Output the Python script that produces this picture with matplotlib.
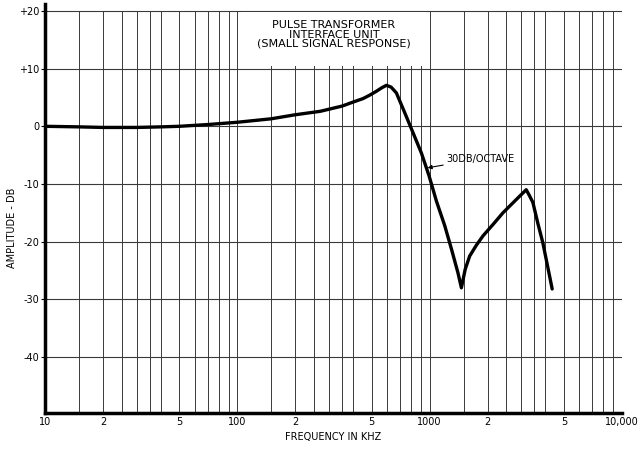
import matplotlib
matplotlib.use("Agg")
import matplotlib.pyplot as plt
from matplotlib.patches import Rectangle
import numpy as np

plt.rcParams['font.family'] = ['DejaVu Sans']

# ---- data ----
freq = [10, 15, 20, 30, 40, 50, 70, 100, 150, 200, 270, 350, 400, 450, 488, 530, 565, 596,
        630, 671, 741, 819, 905, 993, 1085, 1197, 1296, 1403, 1462,
        1530, 1614, 1750, 1893, 2150, 2404, 2800, 3176,
        3300, 3441, 3650, 3877, 4100, 4335]
amp = [0.0, -0.1, -0.2, -0.2, -0.1, 0.0, 0.3, 0.7, 1.3, 2.0, 2.6, 3.5, 4.2, 4.8, 5.4, 6.1, 6.7, 7.1,
       6.8, 5.8, 2.4, -1.1, -4.6, -8.6, -13.0, -17.2, -21.2, -25.4, -28.0,
       -24.8, -22.5, -20.6, -19.0, -16.9, -15.0, -12.8, -11.0,
       -12.0, -13.2, -16.8, -20.2, -24.2, -28.2]

yticks = [20, 10, 0, -10, -20, -30, -40]
ytick_labels = ["+20", "+10", "0", "-10", "-20", "-30", "-40"]
xticks = [10, 20, 50, 100, 200, 500, 1000, 2000, 5000, 10000]
xtick_labels = ["10", "2", "5", "100", "2", "5", "1000", "2", "5", "10,000"]
grid_mult = [1, 1.5, 2, 2.5, 3, 3.5, 4, 5, 6, 7, 8, 9]
decades = [10, 100, 1000]

title_lines = "PULSE TRANSFORMER\nINTERFACE UNIT\n(SMALL SIGNAL RESPONSE)"
annot_text = "30DB/OCTAVE"

# ---- figure ----
fig = plt.figure(figsize=(6.42, 4.50), dpi=100)
ax = fig.add_axes([45/642, 37/450, 577/642, 409/450])
ax.set_xscale('log')
ax.set_xlim(10, 10000)
ax.set_ylim(-49.7, 21.2)

# vertical grid lines
vx = [d * m for d in decades for m in grid_mult] + [10000]
ax.vlines(vx, -49.7, 20, colors='#3a3a3a', linewidth=0.7, zorder=1)
# horizontal grid lines
ax.hlines(yticks, 10, 10000, colors='#3a3a3a', linewidth=0.8, zorder=1)

# white box behind title
box = Rectangle((104, 10.5), 960 - 104, 9.3, facecolor='white', edgecolor='none', zorder=2)
ax.add_patch(box)

ax.plot(freq, amp, color='black', linewidth=2.4, solid_joinstyle='round',
        solid_capstyle='round', zorder=4)

ax.text(318, 18.4, title_lines, ha='center', va='top', fontsize=8,
        linespacing=0.92, zorder=5)

ax.annotate(annot_text, xy=(975, -7.2), xytext=(1215, -5.6), fontsize=7,
            ha='left', va='center', zorder=5,
            arrowprops=dict(arrowstyle='-|>', color='black', lw=0.8,
                            mutation_scale=6, shrinkA=0, shrinkB=0))

ax.set_yticks(yticks)
ax.set_yticklabels(ytick_labels, fontsize=7)
ax.set_xticks(xticks)
ax.set_xticklabels(xtick_labels, fontsize=7)
ax.xaxis.set_minor_locator(matplotlib.ticker.NullLocator())
ax.tick_params(axis='y', length=3, width=0.8, pad=1)
ax.tick_params(axis='x', length=0, pad=3)

for s in ['top', 'right']:
    ax.spines[s].set_visible(False)
ax.spines['left'].set_linewidth(2.5)
ax.spines['bottom'].set_linewidth(2.5)

fig.text(12.5/642, 1 - 228/450, "AMPLITUDE - DB", rotation=90, ha='center', va='center', fontsize=7)
fig.text(333/642, 1 - 437/450, "FREQUENCY IN KHZ", ha='center', va='center', fontsize=7)

fig.savefig("out.png", dpi=100)
